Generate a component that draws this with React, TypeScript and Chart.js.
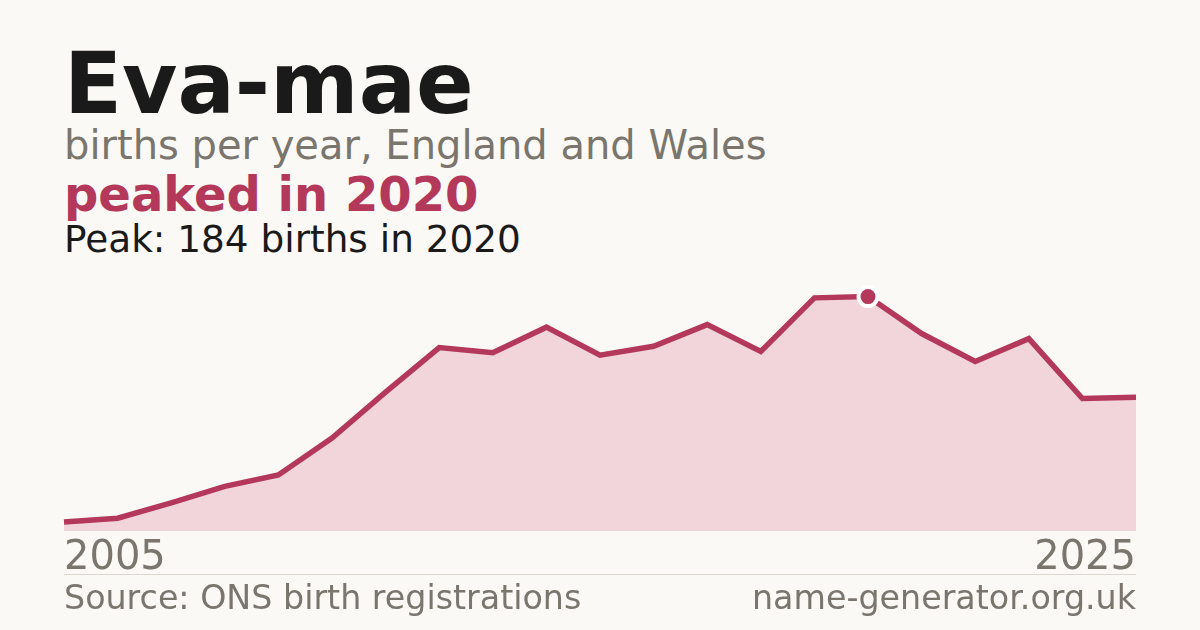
import { useEffect, useRef } from 'react';
import { Chart, registerables } from 'chart.js';

Chart.register(...registerables);

// births per year
const years = [
    '2005', '2006', '2007', '2008', '2009', '2010', '2011', '2012', '2013', '2014', '2015',
    '2016', '2017', '2018', '2019', '2020', '2021', '2022', '2023', '2024', '2025',
];
const births = [7, 10, 22, 35, 44, 73, 109, 144, 140, 160, 138, 145, 162, 141, 183, 184, 155, 133, 151, 104, 105];
const tickLabels = ['2005', '2025'];

const FONT = '"DejaVu Sans", sans-serif';
const RED = '#b3385a';
const GREY = '#7a756d';

const peakIndex = births.indexOf(Math.max(...births));

const App = () => {
    const chartRef = useRef<HTMLCanvasElement | null>(null);

    useEffect(() => {
        const ctx = chartRef.current?.getContext('2d');
        if (!ctx) return;

        const chartInstance = new Chart(ctx, {
            type: 'line',
            data: {
                labels: years,
                datasets: [
                    {
                        data: births,
                        borderColor: RED,
                        borderWidth: 5.5,
                        backgroundColor: '#f1d5db',
                        fill: 'origin',
                        tension: 0,
                        pointRadius: births.map((_, i) => (i === peakIndex ? 9.5 : 0)),
                        pointHoverRadius: 0,
                        pointBackgroundColor: RED,
                        pointBorderColor: '#ffffff',
                        pointBorderWidth: 4,
                    },
                ],
            },
            options: {
                responsive: false,
                animation: false,
                layout: { padding: 0, autoPadding: false },
                plugins: {
                    legend: { display: false },
                    tooltip: { enabled: false },
                },
                scales: {
                    x: {
                        offset: false,
                        grid: { display: false, drawTicks: false },
                        border: { display: false },
                        ticks: {
                            autoSkip: false,
                            maxRotation: 0,
                            align: 'inner',
                            padding: 4,
                            color: GREY,
                            font: { family: FONT, size: 40 },
                            callback: (_v, i) => (tickLabels.includes(years[i]) ? years[i] : null),
                        },
                    },
                    y: {
                        display: false,
                        min: 0,
                        max: 208,
                    },
                },
            },
        });

        return () => {
            chartInstance.destroy();
        };
    }, []);

    const text = (top: number, size: number, color: string, bold = false) => ({
        position: 'absolute' as const,
        left: 64,
        top,
        margin: 0,
        fontFamily: FONT,
        fontSize: size,
        lineHeight: 1,
        fontWeight: bold ? 700 : 400,
        color,
        whiteSpace: 'nowrap' as const,
    });

    return (
        <div style={{ position: 'absolute', left: 0, top: 0, width: 1200, height: 630, background: '#faf9f5', overflow: 'hidden' }}>
            <div style={text(41, 85, '#1a1a1a', true)}>Eva-mae</div>
            <div style={text(125, 40, GREY)}>births per year, England and Wales</div>
            <div style={text(170, 48, RED, true)}>peaked in 2020</div>
            <div style={text(221, 37.4, '#1a1a1a')}>Peak: 184 births in 2020</div>
            <canvas
                ref={chartRef}
                width={1080}
                height={321}
                style={{ position: 'absolute', left: 60, top: 266, width: 1080, height: 321 }}
            ></canvas>
            <div style={{ position: 'absolute', left: 64, top: 574, width: 1072, height: 1, background: '#dcd8d0' }}></div>
            <div style={text(581, 33.3, GREY)}>Source: ONS birth registrations</div>
            <div style={{ ...text(581, 33.3, GREY), left: 'auto', right: 64 }}>name-generator.org.uk</div>
        </div>
    );
};

export default App;
